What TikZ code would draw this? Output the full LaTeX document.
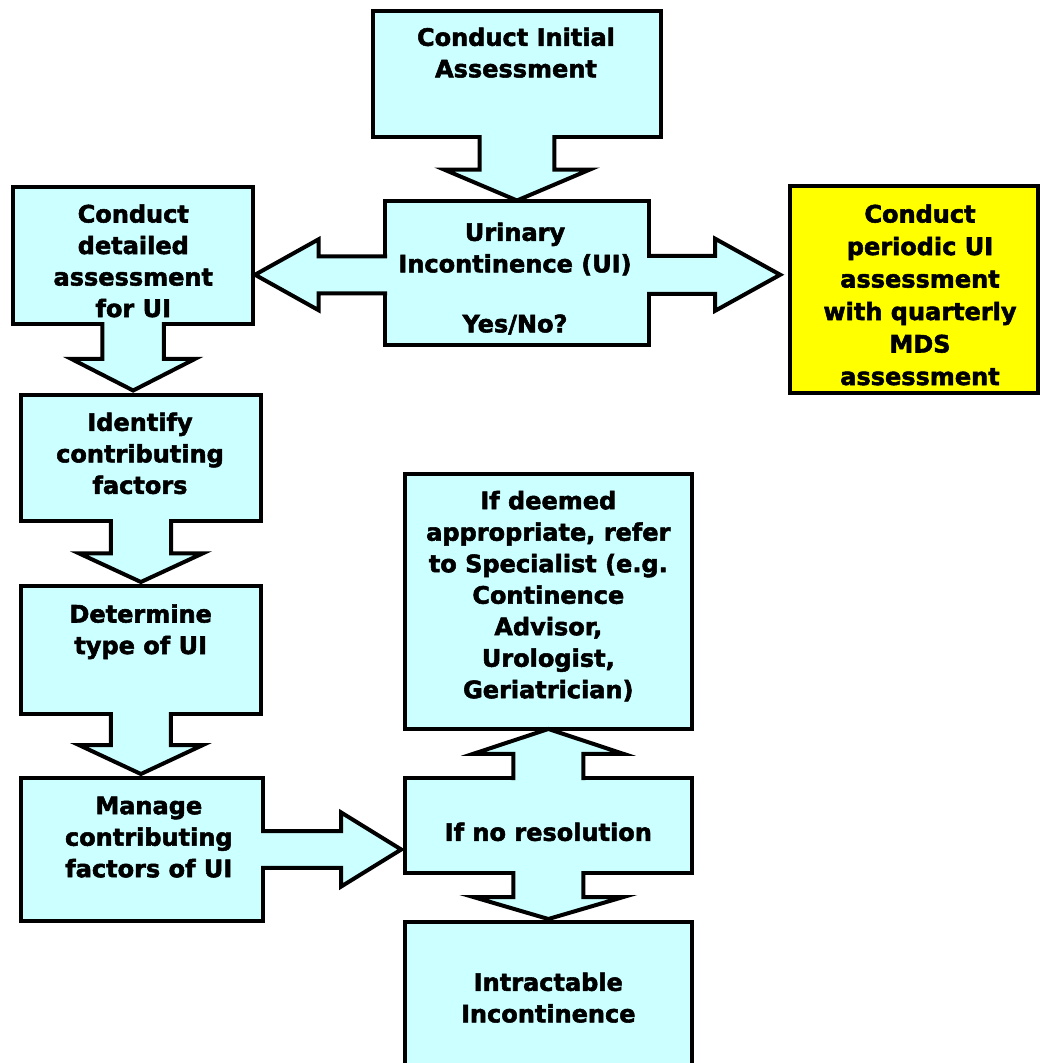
\documentclass[tikz,border=0pt]{standalone}
\usepackage{fontspec}
\setmainfont{DejaVu Sans}[BoldFeatures={FakeBold=2.2}]
\usetikzlibrary{calc}
\definecolor{uicyan}{HTML}{CCFFFF}
\definecolor{uiyellow}{HTML}{FFFF00}
\tikzset{
  box/.style={draw=black, line width=4pt, fill=uicyan, rectangle, outer sep=0pt, inner sep=0pt, anchor=north west},
  yelbox/.style={box, fill=uiyellow},
  lbl/.style={anchor=north, inner sep=0pt, outer sep=0pt, align=center, font=\bfseries\fontsize{24}{31.5}\selectfont},
  arrfill/.style={fill=uicyan},
  arrline/.style={draw=black, line width=4pt, miter limit=10},
}
\newcommand\firststrut{\rule{0pt}{20pt}}
\newcommand\blockarr[5]{%
  \coordinate (ba-s) at (#1);
  \coordinate (ba-t) at (#2);
  \coordinate (ba-h) at ($(ba-t)!#5!(ba-s)$);
  \coordinate (ba-b) at ($(ba-s)!-3.5pt!(ba-t)$);
  \coordinate (ba-o) at ($(ba-s)!-2pt!(ba-t)$);
  \fill[arrfill] ($(ba-b)!#3!90:(ba-t)$) -- ($(ba-h)!#3!90:(ba-t)$) -- ($(ba-h)!#4!90:(ba-t)$) -- (ba-t) -- ($(ba-h)!#4!-90:(ba-t)$) -- ($(ba-h)!#3!-90:(ba-t)$) -- ($(ba-b)!#3!-90:(ba-t)$) -- cycle;
  \draw[arrline] ($(ba-o)!#3!90:(ba-t)$) -- ($(ba-h)!#3!90:(ba-t)$) -- ($(ba-h)!#4!90:(ba-t)$) -- (ba-t) -- ($(ba-h)!#4!-90:(ba-t)$) -- ($(ba-h)!#3!-90:(ba-t)$) -- ($(ba-o)!#3!-90:(ba-t)$);
}
\begin{document}
\begin{tikzpicture}[x=1pt,y=-1pt]
\useasboundingbox (0,0) rectangle (1040,1063);
\clip (0,0) rectangle (1040,1063);
% boxes
\node[box, minimum width=288pt, minimum height=126pt] (b1) at (373,11) {};
\node[box, minimum width=264pt, minimum height=144.5pt] (b2) at (385,200.5) {};
\node[box, minimum width=239.7pt, minimum height=137pt] (det) at (13.3,187) {};
\node[box, minimum width=239.2pt, minimum height=126.5pt] (idf) at (21.3,394.5) {};
\node[box, minimum width=239.2pt, minimum height=128pt] (typ) at (21.3,586) {};
\node[box, minimum width=241.7pt, minimum height=143pt] (man) at (21.3,778) {};
\node[yelbox, minimum width=248.3pt, minimum height=207pt] (yel) at (789.7,186) {};
\node[box, minimum width=287.3pt, minimum height=255pt] (spec) at (404.7,474) {};
\node[box, minimum width=287.3pt, minimum height=95pt] (nores) at (404.7,778) {};
\node[box, minimum width=287.3pt, minimum height=160pt] (intr) at (404.7,922) {};
% block arrows
\blockarr{b1.south}{b1.south |- b2.north}{37.3pt}{73pt}{31pt}
\blockarr{$(b2.west)+(0,2)$}{$(b2.west -| det.east)+(2,2)$}{18.5pt}{35.5pt}{63.7pt}
\blockarr{$(b2.east)+(0,2)$}{$(b2.east -| yel.west)+(-9.5,2)$}{19pt}{36pt}{65pt}
\blockarr{det.south}{$(det.south |- idf.north)+(0,-4)$}{30.8pt}{62pt}{31.7pt}
\blockarr{idf.south}{$(idf.south |- typ.north)+(0,-4)$}{30.1pt}{62pt}{28.7pt}
\blockarr{typ.south}{$(typ.south |- man.north)+(0,-4)$}{30pt}{62pt}{29pt}
\blockarr{man.east}{$(man.east -| nores.west)+(-3.5,0)$}{18.3pt}{37pt}{60pt}
\blockarr{nores.north}{nores.north |- spec.south}{35pt}{75pt}{24.8pt}
\blockarr{nores.south}{$(nores.south |- intr.north)+(0,-3)$}{35pt}{75pt}{22pt}
% texts
\node[lbl] (t1) at (516,25.8) {\firststrut Conduct Initial\\Assessment};
\node[lbl] (t2) at (515,220.8) {\firststrut Urinary\\Incontinence (UI)\\[28.5pt]Yes/No?};
\node[lbl] (t3) at (133.3,202.5) {\firststrut Conduct\\detailed\\assessment\\for UI};
\node[lbl] (t4) at (140,410.8) {\firststrut Identify\\contributing\\factors};
\node[lbl] (t5) at (140.7,602.5) {\firststrut Determine\\type of UI};
\node[lbl] (t6) at (148.8,794.2) {\firststrut Manage\\contributing\\factors of UI};
\node[lbl, font=\bfseries\fontsize{24}{32.5}\selectfont] (t7) at (920,202.5) {\firststrut Conduct\\periodic UI\\assessment\\with quarterly\\MDS\\assessment};
\node[lbl] (t8) at (548.3,489.2) {\firststrut If deemed\\appropriate, refer\\to Specialist (e.g.\\Continence\\Advisor,\\Urologist,\\Geriatrician)};
\node[lbl] (t9) at (548.3,820.8) {\firststrut If no resolution};
\node[lbl] (t10) at (548.3,970.8) {\firststrut Intractable\\Incontinence};
\end{tikzpicture}
\end{document}
